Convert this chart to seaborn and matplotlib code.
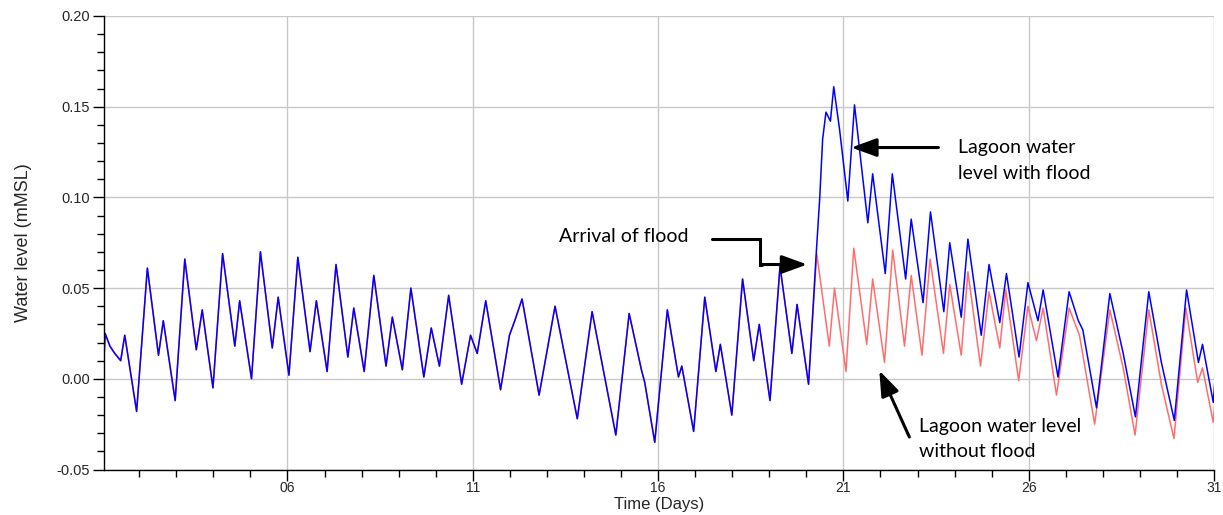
import numpy as np
import pandas as pd
import matplotlib
matplotlib.use("Agg")
import matplotlib.pyplot as plt
import seaborn as sns
from matplotlib.ticker import MultipleLocator, FixedLocator, FormatStrFormatter

# ---------------- data ----------------
# common part (both runs identical before the flood arrives)
t_common = [1.05, 1.08, 1.21, 1.34, 1.50, 1.61, 1.93, 2.22, 2.52, 2.65, 2.97, 3.23, 3.54, 3.70,
            3.99, 4.25, 4.58, 4.71, 5.03, 5.27, 5.59, 5.75, 6.04, 6.28, 6.61, 6.78, 7.07, 7.31,
            7.63, 7.79, 8.07, 8.33, 8.66, 8.83, 9.10, 9.33, 9.68, 9.88, 10.10, 10.35, 10.70,
            10.94, 11.12, 11.35, 11.75, 11.99, 12.15, 12.33, 12.79, 13.22, 13.82, 14.22, 14.86,
            15.22, 15.55, 15.64, 15.91, 16.25, 16.55, 16.64, 16.96, 17.26, 17.56, 17.68, 17.99,
            18.28, 18.58, 18.73, 19.02, 19.29, 19.61, 19.75, 20.06]
wl_common = [0.011, 0.025, 0.018, 0.014, 0.010, 0.024, -0.018, 0.061, 0.013, 0.032, -0.012, 0.066,
             0.016, 0.038, -0.005, 0.069, 0.018, 0.043, 0.000, 0.070, 0.017, 0.045, 0.002, 0.067,
             0.015, 0.043, 0.004, 0.063, 0.012, 0.039, 0.004, 0.057, 0.007, 0.034, 0.005, 0.050,
             0.001, 0.028, 0.007, 0.046, -0.003, 0.024, 0.014, 0.043, -0.006, 0.024, 0.033, 0.044,
             -0.009, 0.040, -0.022, 0.037, -0.031, 0.036, 0.005, -0.002, -0.035, 0.038, 0.001,
             0.007, -0.029, 0.045, 0.004, 0.019, -0.020, 0.055, 0.010, 0.030, -0.012, 0.062,
             0.014, 0.041, -0.003]

# with flood (after arrival)
t_flood = [20.27, 20.36, 20.44, 20.53, 20.65, 20.74, 20.90, 21.12, 21.30, 21.66, 21.79, 22.13,
           22.32, 22.68, 22.83, 23.15, 23.35, 23.71, 23.87, 24.18, 24.36, 24.72, 24.93, 25.22,
           25.40, 25.74, 25.98, 26.25, 26.39, 26.79, 27.09, 27.34, 27.46, 27.83, 28.19, 28.55,
           28.88, 29.24, 29.58, 29.93, 30.26, 30.58, 30.69, 30.98, 31.05]
wl_flood = [0.070, 0.099, 0.132, 0.147, 0.142, 0.161, 0.137, 0.098, 0.151, 0.086, 0.113, 0.058,
            0.113, 0.055, 0.088, 0.042, 0.092, 0.037, 0.075, 0.034, 0.077, 0.024, 0.063, 0.031,
            0.058, 0.012, 0.053, 0.032, 0.049, 0.001, 0.048, 0.032, 0.027, -0.016, 0.047, 0.014,
            -0.021, 0.048, 0.009, -0.023, 0.049, 0.009, 0.019, -0.013, 0.006]

# without flood (after arrival time)
t_noflood = [20.28, 20.62, 20.76, 21.07, 21.28, 21.63, 21.79, 22.11, 22.33, 22.65, 22.83, 23.12,
             23.34, 23.70, 23.87, 24.18, 24.36, 24.70, 24.93, 25.22, 25.38, 25.73, 25.98, 26.21,
             26.39, 26.75, 27.09, 27.37, 27.78, 28.19, 28.55, 28.87, 29.24, 29.58, 29.92, 30.24,
             30.56, 30.69, 30.98, 31.05]
wl_noflood = [0.069, 0.018, 0.050, 0.004, 0.072, 0.019, 0.055, 0.009, 0.071, 0.018, 0.057, 0.013,
              0.066, 0.014, 0.052, 0.013, 0.059, 0.007, 0.048, 0.017, 0.049, -0.001, 0.040, 0.021,
              0.039, -0.009, 0.039, 0.024, -0.025, 0.038, 0.006, -0.031, 0.038, -0.003, -0.033,
              0.039, -0.002, 0.006, -0.024, -0.006]

x_major = [6, 11, 16, 21, 26, 31]
x_labels = ["06", "11", "16", "21", "26", "31"]

# ---------------- build frames ----------------
df_flood = pd.DataFrame({"Time": t_common + t_flood, "Level": wl_common + wl_flood})
df_noflood = pd.DataFrame({"Time": t_common + t_noflood, "Level": wl_common + wl_noflood})

sns.set_style("white")
plt.rcParams["font.family"] = ["Liberation Sans", "DejaVu Sans"]

fig = plt.figure(figsize=(12.23, 5.15), dpi=100)
W, H = 1223, 515
ax = fig.add_axes([104 / W, 1 - 469.5 / H, (1214 - 104) / W, (469.5 - 16) / H])

sns.lineplot(data=df_noflood, x="Time", y="Level", ax=ax, color="#ff6e6e",
             linewidth=1.1, estimator=None, sort=False)
sns.lineplot(data=df_flood, x="Time", y="Level", ax=ax, color="#0000ff",
             linewidth=1.1, estimator=None, sort=False)

ax.set_xlim(1.05, 31.0)
ax.set_ylim(-0.05, 0.20)

ax.xaxis.set_major_locator(FixedLocator(x_major))
ax.set_xticklabels(x_labels)
ax.xaxis.set_minor_locator(MultipleLocator(1))
ax.yaxis.set_major_locator(MultipleLocator(0.05))
ax.yaxis.set_minor_locator(MultipleLocator(0.01))
ax.yaxis.set_major_formatter(FormatStrFormatter("%.2f"))

ax.grid(True, which="major", color="#c8c8c8", linewidth=1.0)
ax.set_axisbelow(True)
for s in ["top", "right"]:
    ax.spines[s].set_visible(False)
for s in ["left", "bottom"]:
    ax.spines[s].set_color("black")
    ax.spines[s].set_linewidth(1.0)

ax.tick_params(axis="both", which="major", direction="out", length=8, width=1,
               color="black", left=True, bottom=True)
ax.tick_params(axis="both", which="minor", direction="out", length=5, width=1,
               color="black", left=True, bottom=True)
ax.tick_params(axis="y", labelsize=10.5, pad=2)
ax.tick_params(axis="x", labelsize=10, pad=0.5)

ax.set_xlabel("Time (Days)", fontsize=12, labelpad=1)
ax.set_ylabel("Water level (mMSL)", fontsize=13, labelpad=18)

# ---------------- annotations ----------------
ann_font = dict(fontsize=14, family=["Lato", "DejaVu Sans"], color="black")
arrow_kw = dict(arrowstyle="-|>,head_length=0.55,head_width=0.2", color="black",
                lw=2.2, mutation_scale=28, shrinkA=0, shrinkB=0)

def px2d(px, py):
    return 1.05 + (px - 104) / 37.0, (379.3 - py) * 0.05 / 91.5

# with flood
ax.annotate("", xy=px2d(850, 146), xytext=px2d(937, 146), arrowprops=arrow_kw)
ax.text(*px2d(957, 159), "Lagoon water\nlevel with flood", ha="left", va="center",
        linespacing=1.6, **ann_font)

# arrival of flood
x0, y0 = px2d(711, 238)
x1, y1 = px2d(759, 264)
x2, _ = px2d(806, 264)
ax.plot([x0, x1, x1, x1 + 0.05], [y0, y0, y1, y1], color="black", lw=2.2,
        solid_joinstyle="miter")
ax.annotate("", xy=(x2, y1), xytext=(x1 + 0.04, y1), arrowprops=arrow_kw)
ax.text(*px2d(688, 236), "Arrival of flood", ha="right", va="center", **ann_font)

# without flood
ax.annotate("", xy=px2d(878, 371), xytext=px2d(908, 438), arrowprops=arrow_kw)
ax.text(*px2d(918, 440), "Lagoon water level\nwithout flood", ha="left", va="center",
        linespacing=1.6, **ann_font)

fig.savefig("out.png", dpi=100)
